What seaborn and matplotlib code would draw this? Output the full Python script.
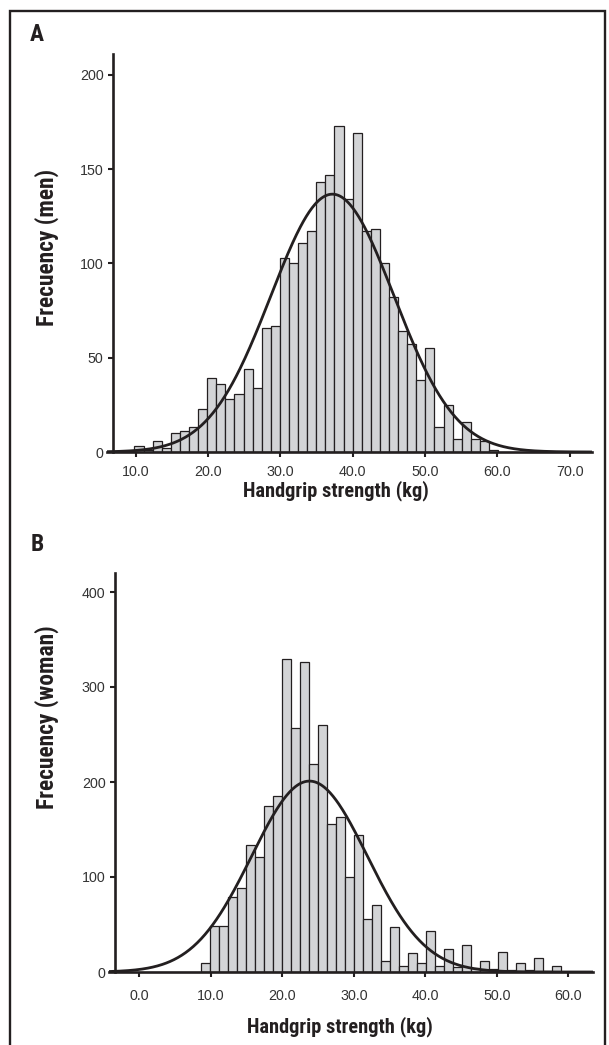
import os
import numpy as np
import pandas as pd
import matplotlib
matplotlib.use('Agg')
import matplotlib.pyplot as plt
from matplotlib import font_manager
from matplotlib.patches import Rectangle
import seaborn as sns

# Men: counts per bin (bins of ~1.26 kg starting at 9.83)
men_counts = [3, 1, 6, 2, 10, 11, 13, 23, 39, 36, 28, 31, 44, 34, 66, 67,
              103, 100, 111, 117, 143, 147, 173, 134, 169, 117, 118, 100, 82, 64,
              57, 38, 55, 13, 25, 7, 16, 7, 6, 1]
men_bin_start = 9.83
men_mean, men_sd = 37.2, 8.5

# Women: counts per bin (bins of ~1.26 kg starting at 8.63)
woman_counts = [10, 48, 48, 79, 88, 134, 121, 175, 185, 330, 257, 326, 219, 260,
                156, 163, 100, 144, 56, 71, 12, 47, 6, 20, 9, 43, 6, 24, 5, 28,
                4, 12, 3, 21, 2, 10, 2, 15, 1, 6]
woman_bin_start = 8.63
woman_mean, woman_sd = 23.8, 8.1

bin_width = 1.257

men_xticks = [10, 20, 30, 40, 50, 60, 70]
men_yticks = [0, 50, 100, 150, 200]
woman_xticks = [0, 10, 20, 30, 40, 50, 60]
woman_yticks = [0, 100, 200, 300, 400]

W, H = 609, 1045
sns.set_style('ticks')
plt.rcParams['font.family'] = ['Liberation Sans', 'DejaVu Sans']

ink = '#231f20'
bar_fill = '#d3d4d6'

# look for a condensed bold face for the labels, else plain bold
cond_file = None
prefs = ['liberationsansnarrow-bold.', 'notosans-condensedbold.', 'roboto_condensed-bold',
         'robotocondensed-bold.', 'opensans_condensed-bold', 'opensanscondensed-bold']
files = [f.fname for f in font_manager.fontManager.ttflist]
for p in prefs:
    hit = [f for f in files if os.path.basename(f).lower().replace(' ', '').startswith(p)]
    if hit:
        cond_file = hit[0]
        break
if cond_file:
    label_fp = font_manager.FontProperties(fname=cond_file)
else:
    label_fp = font_manager.FontProperties(family=['Liberation Sans', 'DejaVu Sans'], weight='bold')

fig = plt.figure(figsize=(W / 100, H / 100), dpi=100)


def fx(px):
    return px / W


def fy(py):
    return 1 - py / H


def panel(rect, counts, start, mean, sd, xlim, ylim, spine_x, xticks, yticks, xpad):
    ax = fig.add_axes(rect)
    edges = start + bin_width * np.arange(len(counts) + 1)
    df = pd.DataFrame({'x': (edges[:-1] + edges[1:]) / 2, 'n': counts})
    sns.histplot(data=df, x='x', weights='n', bins=list(edges), ax=ax, color=bar_fill,
                 edgecolor=ink, linewidth=0.9, alpha=1)
    n = sum(counts)
    xs = np.linspace(xlim[0], xlim[1], 500)
    ys = n * bin_width * np.exp(-0.5 * ((xs - mean) / sd) ** 2) / (sd * np.sqrt(2 * np.pi))
    sns.lineplot(x=xs, y=ys, ax=ax, color=ink, linewidth=2.0)
    ax.set_xlim(*xlim)
    ax.set_ylim(*ylim)
    ax.set_xticks(xticks)
    ax.set_xticklabels([f'{t:.1f}' for t in xticks])
    ax.set_yticks(yticks)
    ax.set_xlabel('')
    ax.set_ylabel('')
    for s in ['top', 'right']:
        ax.spines[s].set_visible(False)
    ax.spines['left'].set_position(('data', spine_x))
    ax.spines['left'].set_linewidth(1.9)
    ax.spines['bottom'].set_linewidth(1.9)
    ax.spines['left'].set_color(ink)
    ax.spines['bottom'].set_color(ink)
    ax.tick_params(axis='both', length=3.8, width=1.5, color=ink,
                   labelsize=10.3, labelcolor='#333333')
    ax.tick_params(axis='x', pad=xpad)
    ax.tick_params(axis='y', pad=3)
    return ax


# Panel A (men): axes spans px x 107-592, y 54-452
panel([fx(107), fy(452), (592 - 107) / W, (452 - 54) / H],
      men_counts, men_bin_start, men_mean, men_sd,
      (6.03, 73.1), (0, 211), 6.86, men_xticks, men_yticks, 5.8)

# Panel B (woman): axes spans px x 109-593, y 573-972
panel([fx(109), fy(972), (593 - 109) / W, (972 - 573) / H],
      woman_counts, woman_bin_start, woman_mean, woman_sd,
      (-4.24, 63.45), (0, 420), -3.4, woman_xticks, woman_yticks, 8.6)

# size the label font so "Handgrip strength (kg)" is ~186 px wide, as in the reference
renderer = fig.canvas.get_renderer()
probe = fig.text(0, 0, 'Handgrip strength (kg)', fontproperties=label_fp, size=15)
wpx = probe.get_window_extent(renderer).width
probe.remove()
lab_size = 15 * 186 / wpx
label_font = dict(fontproperties=label_fp, color=ink)


def label(x, y, s, scale=1.0, **kw):
    t = fig.text(fx(x), fy(y), s, **label_font, **kw)
    t.set_fontsize(lab_size * scale)
    return t


label(30, 41, 'A', scale=1.15, ha='left', va='baseline')
label(31, 551, 'B', scale=1.15, ha='left', va='baseline')

label(336, 491, 'Handgrip strength (kg)', ha='center', va='center')
label(340, 1027, 'Handgrip strength (kg)', ha='center', va='center')
label(47, 247, 'Frecuency (men)', scale=1.15, ha='center', va='center', rotation=90)
label(47, 717, 'Frecuency (woman)', scale=1.15, ha='center', va='center', rotation=90)

# outer frame (open at the bottom)
fig.add_artist(Rectangle((fx(10), -0.05), fx(605) - fx(10), fy(11) + 0.05,
                         transform=fig.transFigure, fill=False, edgecolor=ink,
                         linewidth=1.7, clip_on=False))

fig.savefig('out.png', dpi=100)
